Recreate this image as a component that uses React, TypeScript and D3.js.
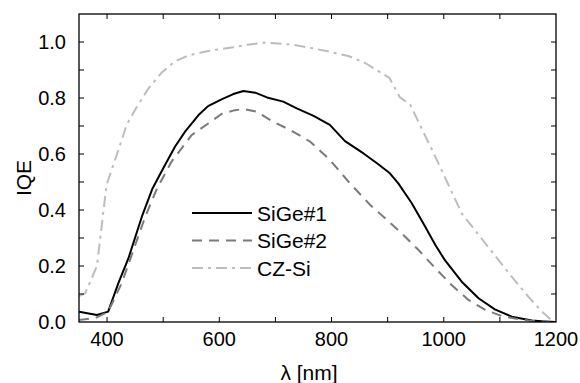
import React from "react";
import * as d3 from "d3";

// wavelength [nm] / IQE readings
const sige1X = [350, 382, 402, 420, 438, 462, 481, 503, 521, 539, 563, 580, 604, 625, 643, 664, 685, 714, 738, 768, 797, 824, 857, 881, 904, 919, 943, 967, 985, 1002, 1032, 1062, 1091, 1121, 1157, 1180, 1200];
const sige1Y = [0.037, 0.025, 0.037, 0.138, 0.227, 0.376, 0.477, 0.56, 0.626, 0.68, 0.739, 0.771, 0.795, 0.814, 0.825, 0.819, 0.802, 0.787, 0.763, 0.736, 0.704, 0.646, 0.602, 0.567, 0.531, 0.495, 0.424, 0.34, 0.275, 0.221, 0.144, 0.085, 0.045, 0.019, 0.005, 0.002, 0.0];

const sige2X = [350, 379, 402, 426, 468, 489, 515, 551, 581, 604, 625, 643, 667, 696, 726, 762, 797, 833, 869, 899, 925, 955, 985, 1014, 1044, 1074, 1104, 1133, 1157, 1190];
const sige2Y = [0.007, 0.014, 0.037, 0.138, 0.376, 0.477, 0.573, 0.668, 0.71, 0.743, 0.755, 0.761, 0.751, 0.715, 0.686, 0.644, 0.579, 0.495, 0.418, 0.364, 0.317, 0.257, 0.192, 0.132, 0.079, 0.043, 0.021, 0.01, 0.004, 0.0];

const czX = [350, 361, 382, 399, 422, 435, 452, 474, 497, 520, 545, 580, 625, 650, 680, 714, 731, 768, 797, 830, 860, 903, 922, 940, 985, 1032, 1074, 1121, 1151, 1175, 1190];
const czY = [0.093, 0.102, 0.2, 0.489, 0.625, 0.705, 0.765, 0.835, 0.89, 0.93, 0.952, 0.968, 0.981, 0.99, 0.998, 0.993, 0.99, 0.977, 0.965, 0.95, 0.925, 0.872, 0.802, 0.777, 0.59, 0.388, 0.281, 0.162, 0.09, 0.037, 0.01];

const xTicks = [400, 600, 800, 1000, 1200];
const xMinor = [400, 500, 600, 700, 800, 900, 1000, 1100];
const yTicks = [0.0, 0.2, 0.4, 0.6, 0.8, 1.0];
const yMinor = [0.1, 0.2, 0.3, 0.4, 0.5, 0.6, 0.7, 0.8, 0.9, 1.0];

const seriesNames = ["SiGe#1", "SiGe#2", "CZ-Si"];

const W = 580;
const H = 383;
const left = 79;
const right = 556;
const top = 14;
const bottom = 322;
const font = "'Liberation Sans', Arial, Helvetica, sans-serif";

export default function App() {
  const x = d3.scaleLinear().domain([350, 1200]).range([left, right]);
  const y = d3.scaleLinear().domain([0, 1.1]).range([bottom, top]);

  const line = d3
    .line<[number, number]>()
    .x(d => x(d[0]))
    .y(d => y(d[1]));

  const series = [
    { name: seriesNames[0], pts: sige1X.map((v, i) => [v, sige1Y[i]] as [number, number]), color: "#000", dash: "" },
    { name: seriesNames[1], pts: sige2X.map((v, i) => [v, sige2Y[i]] as [number, number]), color: "#7a7a7a", dash: "10,7" },
    { name: seriesNames[2], pts: czX.map((v, i) => [v, czY[i]] as [number, number]), color: "#bdbdbd", dash: "11,5,3,5" }
  ];

  const tl = 5;

  return (
    <svg width={W} height={H} style={{ position: "absolute", left: 0, top: 0, background: "#fff" }} fontFamily={font}>
      <defs>
        <clipPath id="plot">
          <rect x={left} y={top} width={right - left} height={bottom - top} />
        </clipPath>
      </defs>

      <g clipPath="url(#plot)">
        {series.map(s => (
          <path key={s.name} d={line(s.pts) || ""} fill="none" stroke={s.color} strokeWidth={2} strokeDasharray={s.dash} strokeLinejoin="round" />
        ))}
      </g>

      {/* ticks on all four sides, pointing in */}
      {xMinor.map(t => (
        <g key={"x" + t} stroke="#000" strokeWidth={1}>
          <line x1={x(t)} x2={x(t)} y1={bottom} y2={bottom - tl} />
          <line x1={x(t)} x2={x(t)} y1={top} y2={top + tl} />
        </g>
      ))}
      {yMinor.map(t => (
        <g key={"y" + t} stroke="#000" strokeWidth={1}>
          <line x1={left} x2={left + tl} y1={y(t)} y2={y(t)} />
          <line x1={right} x2={right - tl} y1={y(t)} y2={y(t)} />
        </g>
      ))}

      <rect x={left} y={top} width={right - left} height={bottom - top} fill="none" stroke="#000" strokeWidth={1.3} />

      {xTicks.map(t => (
        <text key={"xl" + t} x={x(t)} y={bottom + 24} textAnchor="middle" fontSize={20} fill="#000">
          {t}
        </text>
      ))}
      {yTicks.map(t => (
        <text key={"yl" + t} x={left - 13} y={y(t) + 7} textAnchor="end" fontSize={20} fill="#000">
          {t.toFixed(1)}
        </text>
      ))}

      <text x={309} y={380} textAnchor="middle" fontSize={21} fill="#000">
        λ [nm]
      </text>
      <text transform={`translate(31, 178) rotate(-90)`} textAnchor="middle" fontSize={21} fill="#000">
        IQE
      </text>

      {series.map((s, i) => (
        <g key={"lg" + s.name} transform={`translate(192, ${213 + i * 27.5})`}>
          <line x1={0} x2={60} y1={0} y2={0} stroke={s.color} strokeWidth={2} strokeDasharray={s.dash} />
          <text x={65} y={7.5} fontSize={21} fill="#000">
            {s.name}
          </text>
        </g>
      ))}
    </svg>
  );
}
